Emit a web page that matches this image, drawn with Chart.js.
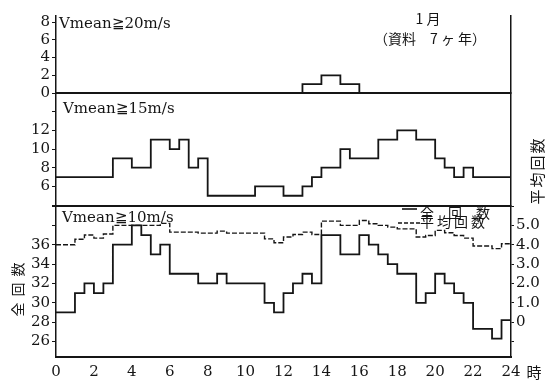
<!DOCTYPE html>
<html>
<head>
<meta charset="utf-8">
<script src="https://cdn.jsdelivr.net/npm/chart.js@4"></script>
<style>
html, body { margin: 0; padding: 0; background: #fff; }
#wrap { position: relative; width: 553px; height: 382px; }
</style>
</head>
<body>
<div id="wrap"><canvas id="chart" width="553" height="382"></canvas></div>
<script>
// Data (hour where each step starts, value for that step)
const hours20 = [0, 13, 14, 15, 16, 24];
const count20 = [0, 1, 2, 1, 0, 0];

const hours15 = [0, 3, 4, 5, 6, 6.5, 7, 7.5, 8, 10.5, 12, 13, 13.5, 14, 15, 15.5, 17, 18, 19, 20, 20.5, 21, 21.5, 22, 24];
const count15 = [7, 9, 8, 11, 10, 11, 8, 9, 5, 6, 5, 6, 7, 8, 10, 9, 11, 12, 11, 9, 8, 7, 8, 7, 7];

const hours10 = [0, 1, 1.5, 2, 2.5, 3, 4, 4.5, 5, 5.5, 6, 7.5, 8.5, 9, 11, 11.5, 12, 12.5, 13, 13.5,
                 14, 15, 16, 16.5, 17, 17.5, 18, 19, 19.5, 20, 20.5, 21, 21.5, 22, 23, 23.5, 24];
const total10 = [29, 31, 32, 31, 32, 36, 38, 37, 35, 36, 33, 32, 33, 32, 30, 29, 31, 32, 33, 32,
                 37, 35, 37, 36, 35, 34, 33, 30, 31, 33, 32, 31, 30, 27.3, 26.3, 28.2, 28.2];
const mean10 = [4.0, 4.28, 4.5, 4.34, 4.55, 5.0, 5.0, 5.0, 5.0, 5.1, 4.65, 4.6, 4.7, 4.6, 4.3, 4.1, 4.4, 4.53, 4.65, 4.53,
                5.22, 5.0, 5.25, 5.08, 5.0, 4.91, 4.82, 4.4, 4.48, 4.74, 4.62, 4.48, 4.34, 3.93, 3.8, 4.05, 4.05];

// Tick labels
const hourTicks = [0, 2, 4, 6, 8, 10, 12, 14, 16, 18, 20, 22, 24];
const ticks20 = [0, 2, 4, 6, 8];
const ticks15 = [6, 8, 10, 12];
const ticks10 = [26, 28, 30, 32, 34, 36];
const ticksMean = [0, 1, 2, 3, 4, 5];

const ink = '#151515';
const serif = 'DejaVu Serif';
const cjk = '"Noto Sans CJK JP"';
const tickFont = { family: serif, size: 15 };

function steps(hours, values) {
    return hours.map((h, i) => ({ x: h, y: values[i] }));
}

function leftAxis(min, max, step, height, order, shown) {
    return {
        type: 'linear', position: 'left', stack: 'L', stackWeight: height, weight: order,
        min: min, max: max,
        border: { color: ink, width: 1.5 },
        grid: { drawOnChartArea: false, drawTicks: true, tickLength: 4, color: ink },
        ticks: {
            stepSize: step, includeBounds: false, autoSkip: false, padding: 2, color: ink, font: tickFont,
            callback: v => shown.includes(v) ? String(v) : ''
        },
        afterFit: s => { s.width = 56; }
    };
}

function rightAxis(min, max, height, order, shown) {
    return {
        type: 'linear', position: 'right', stack: 'R', stackWeight: height, weight: order,
        min: min, max: max,
        border: { color: ink, width: 1.5 },
        grid: { drawOnChartArea: false, drawTicks: shown.length > 0, tickLength: 3, color: ink },
        ticks: {
            display: shown.length > 0, stepSize: 1, includeBounds: false, autoSkip: false, padding: 2,
            color: ink, font: tickFont,
            callback: v => shown.includes(v) ? (v === 0 ? '0' : v.toFixed(1)) : ''
        },
        afterFit: s => { s.width = 42; }
    };
}

const panelNotes = {
    id: 'panelNotes',
    afterDraw(chart) {
        const { ctx, chartArea: area, scales } = chart;
        ctx.save();

        // panel dividers
        ctx.strokeStyle = ink;
        ctx.lineWidth = 2;
        [scales.y15.top, scales.y10.top].forEach(y => {
            ctx.beginPath();
            ctx.moveTo(area.left, y);
            ctx.lineTo(area.right, y);
            ctx.stroke();
        });

        ctx.fillStyle = ink;
        ctx.textAlign = 'left';
        ctx.textBaseline = 'alphabetic';
        ctx.font = `15px "${serif}"`;
        ctx.fillText('Vmean≧20m/s', area.left + 3, scales.y20.top + 12);
        ctx.fillText('Vmean≧15m/s', area.left + 7, scales.y15.top + 20);
        ctx.fillText('Vmean≧10m/s', area.left + 6, scales.y10.top + 16);

        // month / data note
        ctx.textAlign = 'center';
        ctx.textBaseline = 'middle';
        ctx.font = `14px ${cjk}`;
        ctx.fillText('1 月', 428, 19);
        ctx.fillText('（資料　7 ヶ 年）', 430, 39);

        // legend
        const ly1 = scales.y10.top + 3;
        const ly2 = scales.y10.top + 17;
        ctx.lineWidth = 1.6;
        ctx.beginPath();
        ctx.moveTo(402, ly1);
        ctx.lineTo(417, ly1);
        ctx.stroke();
        ctx.setLineDash([4, 2]);
        ctx.lineWidth = 1.3;
        ctx.beginPath();
        ctx.moveTo(398, ly2);
        ctx.lineTo(420, ly2);
        ctx.stroke();
        ctx.setLineDash([]);
        ctx.textAlign = 'left';
        ctx.fillText('全　回　数', 420, ly1 + 4);
        ctx.letterSpacing = '3px';
        ctx.fillText('平均回数', 420, ly2 - 1);
        ctx.letterSpacing = '0px';

        // axis titles, read bottom to top
        ctx.textAlign = 'center';
        ctx.save();
        ctx.translate(18, (scales.y10.top + scales.y10.bottom) / 2 + 8);
        ctx.rotate(-Math.PI / 2);
        ctx.letterSpacing = '6px';
        ctx.fillText('全回数', 3, 0);
        ctx.restore();

        ctx.save();
        ctx.translate(537, (scales.r15.top + scales.r15.bottom) / 2 + 22);
        ctx.rotate(-Math.PI / 2);
        ctx.font = `15px ${cjk}`;
        ctx.letterSpacing = '2px';
        ctx.fillText('平均回数', 1, 0);
        ctx.restore();

        ctx.font = `15px ${cjk}`;
        ctx.fillText('時', area.right + 23, area.bottom + 15);
        ctx.restore();
    }
};

const lineStyle = {
    stepped: true, pointRadius: 0, borderColor: ink, borderWidth: 1.8, fill: false, xAxisID: 'x'
};

new Chart(document.getElementById('chart'), {
    type: 'line',
    data: {
        datasets: [
            { ...lineStyle, label: 'Vmean≧20m/s', data: steps(hours20, count20), yAxisID: 'y20' },
            { ...lineStyle, label: 'Vmean≧15m/s', data: steps(hours15, count15), yAxisID: 'y15' },
            { ...lineStyle, label: '平均回数', data: steps(hours10, mean10), yAxisID: 'r10', borderDash: [5, 2], borderWidth: 1.4 },
            { ...lineStyle, label: '全回数', data: steps(hours10, total10), yAxisID: 'y10' }
        ]
    },
    options: {
        responsive: false,
        animation: false,
        devicePixelRatio: 1,
        layout: { padding: { top: 16, left: 0, right: 0, bottom: 0 } },
        plugins: { legend: { display: false }, tooltip: { enabled: false } },
        scales: {
            x: {
                type: 'linear', position: 'bottom', min: 0, max: 24,
                border: { color: ink, width: 2 },
                grid: { drawOnChartArea: false, drawTicks: false },
                ticks: {
                    stepSize: 2, padding: 6, color: ink, font: tickFont, maxRotation: 0, autoSkip: false,
                    callback: v => hourTicks.includes(v) ? String(v) : ''
                },
                afterFit: s => { s.height = 25; }
            },
            y20: leftAxis(0, 8.7, 2, 77, 3, ticks20),
            y15: leftAxis(3.9, 16, 2, 113, 2, ticks15),
            y10: leftAxis(24.4, 40, 2, 151, 1, ticks10),
            r20: rightAxis(0, 1, 77, 1, []),
            r15: rightAxis(0, 1, 113, 2, []),
            r10: rightAxis(-1.8, 6, 151, 3, ticksMean)
        }
    },
    plugins: [panelNotes]
});
</script>
</body>
</html>
